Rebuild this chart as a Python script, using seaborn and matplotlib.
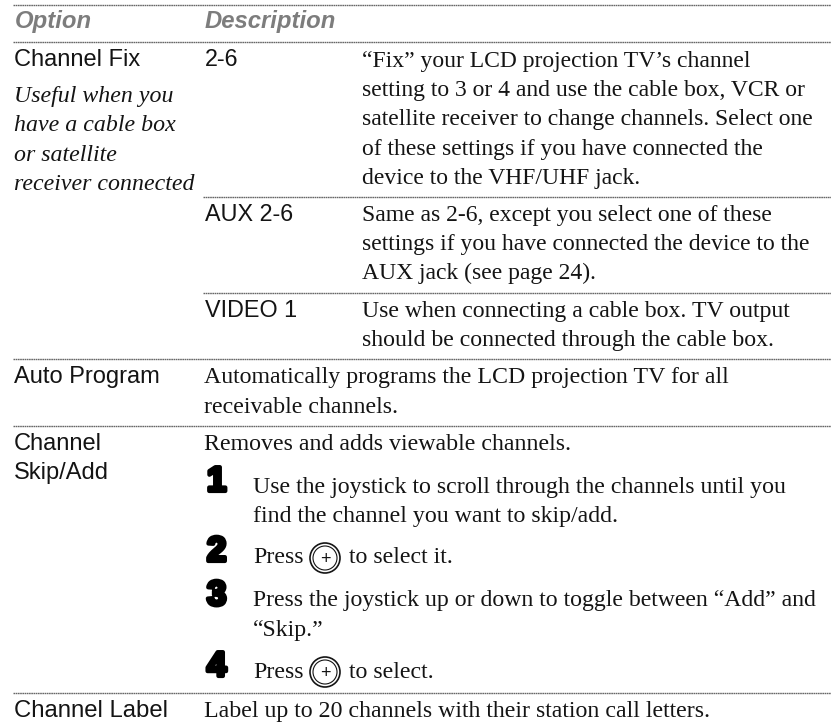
import pandas as pd
import matplotlib
matplotlib.use('Agg')
import matplotlib.pyplot as plt
import matplotlib.patheffects as pe
from matplotlib.patches import Circle
import seaborn as sns

# Table text, one list per block
headers = ['Option', 'Description']
option_names = ['Channel Fix', 'Auto Program', 'Channel', 'Skip/Add', 'Channel Label']
option_note = ['Useful when you', 'have a cable box', 'or satellite', 'receiver connected']
settings = ['2-6', 'AUX 2-6', 'VIDEO 1']
fix_text = ['\u201cFix\u201d your LCD projection TV\u2019s channel',
            'setting to 3 or 4 and use the cable box, VCR or',
            'satellite receiver to change channels. Select one',
            'of these settings if you have connected the',
            'device to the VHF/UHF jack.']
aux_text = ['Same as 2-6, except you select one of these',
            'settings if you have connected the device to the',
            'AUX jack (see page 24).']
video_text = ['Use when connecting a cable box. TV output',
              'should be connected through the cable box.']
auto_text = ['Automatically programs the LCD projection TV for all',
             'receivable channels.']
skip_intro = ['Removes and adds viewable channels.']
label_text = ['Label up to 20 channels with their station call letters.']
step_numbers = ['1', '2', '3', '4']
step_text = ['Use the joystick to scroll through the channels until you',
             'find the channel you want to skip/add.',
             'Press',
             'to select it.',
             'Press the joystick up or down to toggle between \u201cAdd\u201d and',
             '\u201cSkip.\u201d',
             'Press',
             'to select.']

SERIF = 'Liberation Serif'
SANS = 'Liberation Sans'
INK = '#141414'
BODY = 17.2
LABEL = 17.0

sns.set_theme(style='white')
fig = plt.figure(figsize=(8.31, 7.27), dpi=100)
ax = fig.add_axes([0, 0, 1, 1])

# horizontal rules of the table
rule_y = [5, 42, 197, 293, 359, 426, 693]
rule_x0 = [13, 13, 203, 203, 13, 13, 13]
rows = []
for i, (y, x0) in enumerate(zip(rule_y, rule_x0)):
    rows.append({'rule': i, 'x': x0, 'y': y})
    rows.append({'rule': i, 'x': 831, 'y': y})
rules = pd.DataFrame(rows)
sns.lineplot(data=rules, x='x', y='y', units='rule', estimator=None,
             color='#666666', linewidth=1.0, linestyle=(0, (1.2, 0.4)), ax=ax, legend=False)
ax.set_xlim(0, 831)
ax.set_ylim(727, 0)
ax.axis('off')


def block(lines, x, y, pitch=29.2, family=SERIF, size=BODY, **kw):
    for i, line in enumerate(lines):
        ax.text(x, y + i * pitch, line, family=family, fontsize=size, color=INK,
                va='baseline', ha='left', **kw)


# header
ax.text(15, 28, headers[0], family=SANS, fontsize=17.2, style='italic', weight='bold', color='#7d7d7d')
ax.text(205, 28, headers[1], family=SANS, fontsize=17.2, style='italic', weight='bold', color='#7d7d7d')

# option column
block(option_names[:1], 14, 66, family=SANS, size=LABEL)
block(option_note, 14, 102, pitch=29.3, style='italic')
block(option_names[1:2], 14, 383, family=SANS, size=LABEL)
block(option_names[2:4], 14, 450, pitch=29, family=SANS, size=LABEL)
block(option_names[4:], 14, 717, family=SANS, size=17.2)

# setting column
for name, y in zip(settings, [66, 221, 317]):
    block([name], 205, y, family=SANS, size=16.8)

# description column
block(fix_text, 362, 67, size=17.0)
block(aux_text, 362, 221, size=17.0)
block(video_text, 362, 317, size=17.1)
block(auto_text, 204, 383, pitch=30)
block(skip_intro, 204, 450)
block(label_text, 204, 717)

# numbered steps
for num, y in zip(step_numbers, [493, 563, 607, 678]):
    ax.text(207, y - 2, num, family=SANS, fontsize=25, weight='bold', color='black',
            path_effects=[pe.withStroke(linewidth=3, foreground='black')])
block(step_text[:2], 253, 493)
block(step_text[2:3], 253, 563)
block(step_text[3:4], 349, 563)
block(step_text[4:6], 253, 606, pitch=30, size=17.1)
block(step_text[6:7], 253, 678)
block(step_text[7:], 349, 678)

# circled joystick icons
for y in [558, 672]:
    ax.add_patch(Circle((325, y), 15, fill=False, ec=INK, lw=1.2))
    ax.add_patch(Circle((325, y), 12, fill=False, ec=INK, lw=0.8))
    ax.text(325, y + 2, '+', family=SANS, fontsize=13, color=INK, ha='center', va='center')

fig.savefig('out.png', dpi=100)
